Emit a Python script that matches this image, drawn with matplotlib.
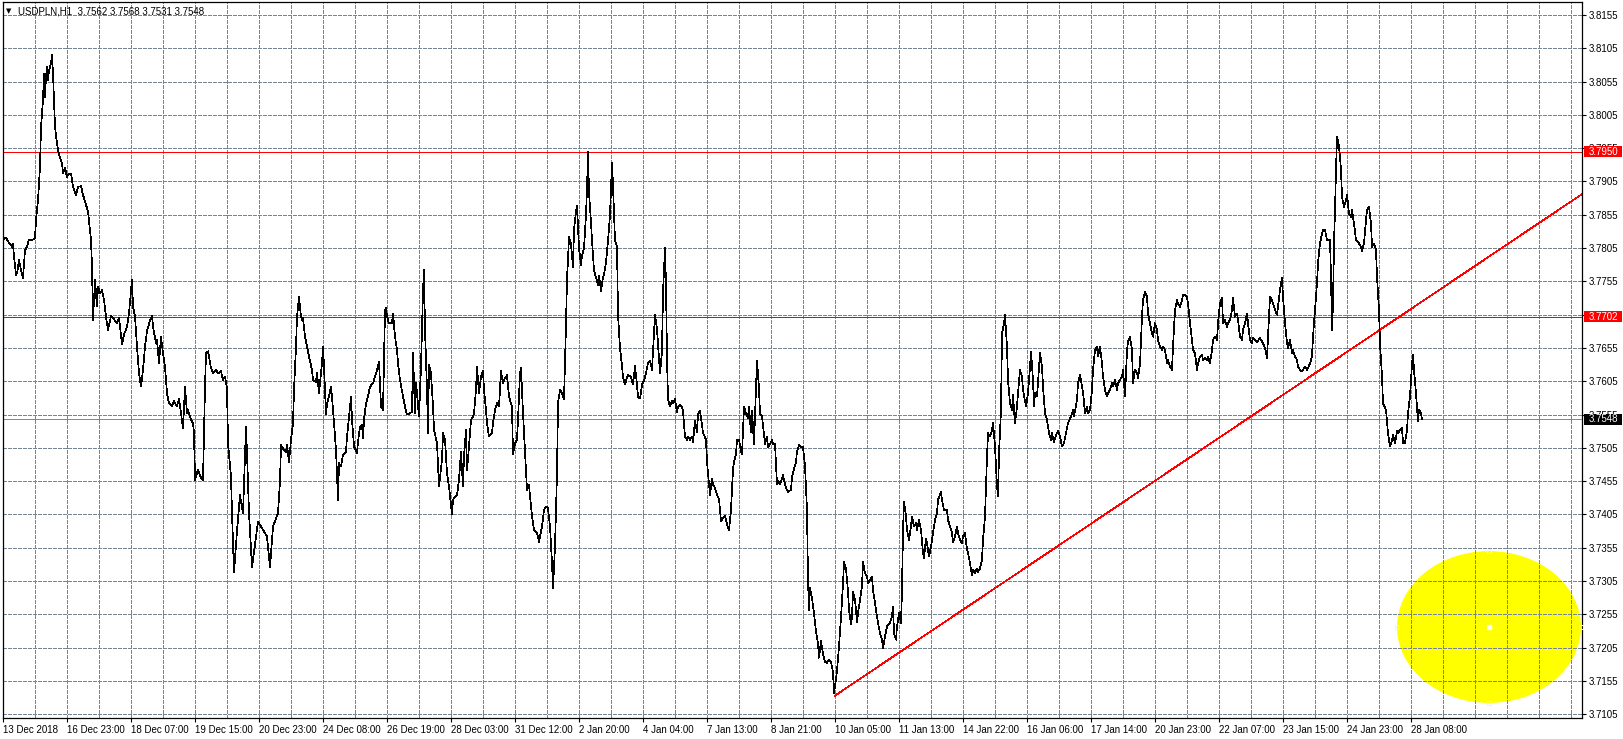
import matplotlib
matplotlib.use("Agg")
import matplotlib.pyplot as plt
from matplotlib.patches import Ellipse, Rectangle
from matplotlib.text import Text
import matplotlib.transforms as mtransforms

# ---------------- data ----------------
hours = [
    0, 1.5, 2.5, 4.5, 5, 5.5, 6.5, 7, 8, 9, 10, 11, 12, 13, 14.5, 16, 16.5, 17.5, 18.5, 19,
    20, 20.5, 21, 21.5, 22, 22.5, 23, 24, 24.5, 25, 25.5, 26, 27, 28, 29.5, 30, 31, 32, 32.5, 34,
    35, 36.5, 37.5, 39, 40, 41, 42.5, 44, 44.5, 45, 46, 47, 47.5, 48.5, 49.5, 50.5, 51.5, 52.5, 54, 55.5,
    57, 58, 59.5, 60.5, 62, 63, 64.5, 65, 66, 67, 68, 69, 70, 71, 72, 73.5, 74.5, 75, 76.5, 77,
    78, 79, 80, 81, 82, 83, 84.5, 85.5, 87, 88, 89, 90, 91, 92, 92.5, 94, 95, 95.5, 96, 97.5,
    99, 100, 101, 101.5, 102.5, 104, 105, 106.5, 107.5, 109, 110, 111, 112, 112.5, 114, 114.5, 115.5, 117, 118.5, 120,
    121.5, 122, 123, 124.5, 126, 127.5, 130, 132, 133.5, 135, 137.5, 138.5, 139, 140, 141.5, 142, 143, 144, 145, 145.5,
    146.5, 147, 148, 149, 149.5, 150, 151, 152, 153, 154.5, 155, 156.5, 157, 158, 159.5, 160, 160.5, 161.5, 162, 163,
    164, 164.5, 165.5, 166.5, 167.5, 168, 169, 170, 171.5, 172, 173, 174, 174.5, 175.5, 177, 177.5, 178.5, 179.5, 180, 180.5,
    181.5, 182.5, 183.5, 185, 186, 187, 188, 189, 190, 191, 191.5, 192, 193, 194.5, 195, 196, 197, 197.5, 198.5, 200,
    201, 202, 203.5, 204.5, 205, 206, 206.5, 207, 208, 209, 210, 210.5, 211, 212, 212.5, 213, 214, 215, 215.5, 217,
    218, 219.5, 220, 221, 222, 223, 224.5, 225, 226, 227, 228, 229, 230, 230.5, 231.5, 232, 233, 234, 235, 235.5,
    236.5, 237, 238, 239, 240, 240.5, 241.5, 242, 243, 244.5, 245, 246, 247, 248, 249, 250, 251, 252, 253, 254.5,
    255, 256, 257, 257.5, 258.5, 259, 260, 261.5, 262, 263, 264.5, 265.5, 267, 268, 269.5, 270.5, 271.5, 272.5, 273.5, 274.5,
    275, 276, 277, 277.5, 278.5, 279.5, 280.5, 281, 281.5, 282, 282.5, 283, 284, 285, 285.5, 286.5, 287, 288, 289, 289.5,
    290.5, 291.5, 292, 292.5, 293, 294, 294.5, 295.5, 296.5, 297.5, 298, 299, 300, 300.5, 301.5, 302.5, 303.5, 304.5, 305, 306,
    307, 307.5, 308.5, 309.5, 310, 311, 312, 312.5, 314, 315, 316, 317, 317.5, 318.5, 319.5, 320.5, 321.5, 322.5, 323.5, 324.5,
    325, 326, 327, 327.5, 328.5, 329.5, 330, 331, 331.5, 332, 332.5, 333.5, 334.5, 335, 336, 337, 337.5, 338.5, 339.5, 340,
    341, 342, 342.5, 343.5, 344.5, 345, 346, 347, 347.5, 348.5, 349.5, 350, 351.5, 352, 353, 353.5, 354.5, 355, 356, 357,
    358, 359, 360, 361, 362, 363, 364, 365, 365.5, 366.5, 367, 368, 369, 369.5, 370.5, 371.5, 372.5, 373, 374, 374.5,
    375.5, 376.5, 377, 378, 378.5, 379.5, 380, 381, 382, 382.5, 383.5, 384.5, 385, 386, 387, 387.5, 388.5, 390, 390.5, 391.5,
    392.5, 394, 394.5, 395.5, 396.5, 397, 398, 399, 400, 401, 402, 402.5, 403, 403.5, 404.5, 405.5, 406.5, 407.5, 408, 409,
    410, 411, 412, 413, 414, 415, 415.5, 416.5, 417, 418, 419, 420, 420.5, 421.5, 422.5, 423, 424, 424.5, 425, 426,
    427, 427.5, 428.5, 429.5, 430, 431, 432, 432.5, 433.5, 434.5, 435, 436, 437, 437.5, 438.5, 439.5, 440, 441, 442, 443.5,
    444.5, 445, 445.5, 446.5, 447, 448, 449, 449.5, 450, 450.5, 451.5, 452, 453, 454, 454.5, 455.5, 456.5, 457, 458, 459,
    460, 460.5, 461.5, 462, 463, 464, 465, 466, 467, 467.5, 469, 469.5, 470.5, 472, 472.5, 473.5, 474.5, 475, 476, 477,
    477.5, 478.5, 479.5, 480, 481, 482, 482.5, 483.5, 484.5, 485, 486, 487, 487.5, 488.5, 489.5, 490, 491, 492, 492.5, 493.5,
    494.5, 495, 496, 497, 497.5, 498, 499, 499.5, 500.5, 501, 502, 502.5, 503.5, 504.5, 505, 506, 507, 507.5, 508.5, 509.5,
    510, 511.5, 512.5, 513.5, 514, 515, 515.5, 516, 517, 518, 518.5, 519.5, 520, 521, 522, 523, 524, 524.5, 525.5, 526.5,
    527.5, 528.5, 529.5, 530.5, 531.5, 532.5, 534, 535, 535.5, 537, 537.5, 538.5, 539.5, 540, 541, 542, 542.5, 543.5, 544.5, 545,
    546, 547, 547.5, 548.5, 549.5, 550, 551, 552, 552.5, 553.5, 554.5, 555, 556, 557, 557.5, 558.5, 559.5, 560, 561, 562,
    562.5, 563.5, 564.5, 565, 566, 567, 567.5, 568.5, 569.5, 570, 571, 572, 572.5, 573.5, 574.5, 575, 576, 577, 577.5, 578.5,
    579.5, 580, 581, 582, 582.5, 583.5, 584.5, 585, 586, 587, 587.5, 588.5, 589.5, 590, 591, 592, 592.5, 593.5, 594.5, 595,
    596, 597, 597.5, 598.5, 599.5, 600, 601, 602, 602.5, 603.5, 604.5, 605, 606, 607, 607.5, 608.5, 609.5, 610, 611, 612,
    612.5, 613.5, 614.5, 615, 616, 617, 617.5, 618.5, 619.5, 620, 621, 622, 622.5, 623.5, 624.5, 625, 626, 627, 628.5, 630,
    631, 632, 632.5, 633.5, 634.5, 635, 636, 637, 637.5, 638.5, 639.5, 640, 641, 642, 642.5, 643.5, 644.5, 645, 646, 647,
    647.5, 648.5, 649.5, 651, 652, 652.5, 653.5, 654.5, 655, 656, 657, 657.5, 658.5, 659.5, 660, 661, 662, 663.5, 664, 664.5,
    665, 665.5, 666, 666.5, 667, 667.5, 668, 668.5, 669, 669.5, 670.5, 671.5, 672, 673, 674, 674.5, 675.5, 676.5, 677, 678,
    679, 679.5, 680.5, 681.5, 682, 683, 684, 684.5, 685.5, 686.5, 687, 688, 688.5, 689.5, 690, 691.5, 692.5, 693.5, 694.5, 695,
    696, 697, 697.5, 698.5, 699.5, 700, 701, 702, 702.5, 703.5, 704.5, 705, 705.5, 706.5, 707.5, 708, 709, 709.5,
]

closes = [
    3.7817, 3.7821, 3.7815, 3.7807, 3.7811, 3.7792, 3.7765, 3.7767, 3.7787, 3.7772, 3.7760, 3.7802, 3.7807, 3.7818, 3.7817, 3.7820, 3.7847, 3.7877, 3.7927, 3.7987,
    3.8027, 3.8067, 3.8032, 3.8062, 3.8077, 3.8057, 3.8072, 3.8082, 3.8095, 3.8067, 3.8027, 3.7987, 3.7962, 3.7945, 3.7932, 3.7917, 3.7925, 3.7912, 3.7915, 3.7917,
    3.7897, 3.7885, 3.7897, 3.7898, 3.7885, 3.7875, 3.7860, 3.7817, 3.7777, 3.7697, 3.7757, 3.7717, 3.7747, 3.7737, 3.7742, 3.7727, 3.7702, 3.7682, 3.7703, 3.7698,
    3.7692, 3.7700, 3.7660, 3.7675, 3.7687, 3.7707, 3.7758, 3.7717, 3.7702, 3.7657, 3.7617, 3.7597, 3.7622, 3.7657, 3.7680, 3.7697, 3.7703, 3.7687, 3.7662, 3.7667,
    3.7632, 3.7672, 3.7647, 3.7627, 3.7587, 3.7572, 3.7567, 3.7575, 3.7567, 3.7579, 3.7557, 3.7535, 3.7597, 3.7557, 3.7562, 3.7547, 3.7542, 3.7527, 3.7457, 3.7472,
    3.7460, 3.7457, 3.7597, 3.7647, 3.7650, 3.7625, 3.7617, 3.7622, 3.7617, 3.7620, 3.7607, 3.7612, 3.7594, 3.7512, 3.7462, 3.7407, 3.7318, 3.7380, 3.7434, 3.7407,
    3.7537, 3.7497, 3.7407, 3.7326, 3.7360, 3.7394, 3.7382, 3.7372, 3.7326, 3.7387, 3.7407, 3.7455, 3.7509, 3.7504, 3.7499, 3.7509, 3.7484, 3.7517, 3.7542, 3.7592,
    3.7657, 3.7702, 3.7732, 3.7702, 3.7697, 3.7700, 3.7672, 3.7657, 3.7642, 3.7622, 3.7607, 3.7604, 3.7617, 3.7587, 3.7632, 3.7657, 3.7627, 3.7555, 3.7572, 3.7582,
    3.7597, 3.7582, 3.7542, 3.7502, 3.7427, 3.7482, 3.7477, 3.7495, 3.7499, 3.7522, 3.7552, 3.7582, 3.7547, 3.7507, 3.7497, 3.7514, 3.7537, 3.7539, 3.7519, 3.7547,
    3.7572, 3.7582, 3.7597, 3.7602, 3.7612, 3.7622, 3.7634, 3.7567, 3.7562, 3.7712, 3.7715, 3.7702, 3.7692, 3.7692, 3.7707, 3.7672, 3.7652, 3.7632, 3.7607, 3.7582,
    3.7567, 3.7555, 3.7557, 3.7559, 3.7648, 3.7557, 3.7602, 3.7587, 3.7552, 3.7627, 3.7742, 3.7772, 3.7682, 3.7592, 3.7527, 3.7630, 3.7617, 3.7567, 3.7532, 3.7512,
    3.7447, 3.7487, 3.7527, 3.7517, 3.7467, 3.7447, 3.7405, 3.7427, 3.7432, 3.7434, 3.7457, 3.7499, 3.7447, 3.7492, 3.7532, 3.7472, 3.7507, 3.7547, 3.7552, 3.7557,
    3.7592, 3.7627, 3.7587, 3.7612, 3.7620, 3.7592, 3.7562, 3.7542, 3.7522, 3.7527, 3.7542, 3.7562, 3.7572, 3.7567, 3.7620, 3.7602, 3.7610, 3.7614, 3.7582, 3.7567,
    3.7495, 3.7512, 3.7517, 3.7547, 3.7617, 3.7625, 3.7557, 3.7472, 3.7442, 3.7449, 3.7402, 3.7382, 3.7377, 3.7364, 3.7387, 3.7412, 3.7417, 3.7414, 3.7387, 3.7332,
    3.7294, 3.7357, 3.7467, 3.7572, 3.7592, 3.7587, 3.7578, 3.7632, 3.7690, 3.7760, 3.7787, 3.7822, 3.7811, 3.7777, 3.7833, 3.7860, 3.7869, 3.7805, 3.7780, 3.7794,
    3.7805, 3.7855, 3.7894, 3.7949, 3.7888, 3.7844, 3.7816, 3.7772, 3.7761, 3.7750, 3.7763, 3.7741, 3.7761, 3.7766, 3.7783, 3.7816, 3.7855, 3.7933, 3.7899, 3.7816,
    3.7808, 3.7705, 3.7655, 3.7628, 3.7611, 3.7600, 3.7611, 3.7614, 3.7612, 3.7600, 3.7628, 3.7600, 3.7581, 3.7579, 3.7600, 3.7606, 3.7617, 3.7633, 3.7636, 3.7622,
    3.7650, 3.7705, 3.7683, 3.7661, 3.7617, 3.7650, 3.7739, 3.7805, 3.7750, 3.7639, 3.7578, 3.7567, 3.7575, 3.7572, 3.7578, 3.7558, 3.7567, 3.7570, 3.7567, 3.7561,
    3.7522, 3.7517, 3.7522, 3.7517, 3.7522, 3.7514, 3.7545, 3.7528, 3.7556, 3.7561, 3.7539, 3.7528, 3.7517, 3.7484, 3.7450, 3.7434, 3.7459, 3.7450, 3.7445, 3.7434,
    3.7428, 3.7395, 3.7400, 3.7403, 3.7390, 3.7381, 3.7412, 3.7473, 3.7484, 3.7495, 3.7517, 3.7517, 3.7500, 3.7495, 3.7567, 3.7556, 3.7550, 3.7567, 3.7528, 3.7561,
    3.7511, 3.7594, 3.7636, 3.7594, 3.7556, 3.7553, 3.7539, 3.7511, 3.7522, 3.7506, 3.7511, 3.7517, 3.7511, 3.7511, 3.7450, 3.7456, 3.7450, 3.7464, 3.7456, 3.7445,
    3.7439, 3.7442, 3.7461, 3.7473, 3.7484, 3.7500, 3.7509, 3.7506, 3.7506, 3.7478, 3.7412, 3.7306, 3.7262, 3.7295, 3.7279, 3.7257, 3.7229, 3.7212, 3.7190, 3.7215,
    3.7196, 3.7184, 3.7182, 3.7187, 3.7184, 3.7168, 3.7137, 3.7157, 3.7171, 3.7207, 3.7251, 3.7301, 3.7334, 3.7323, 3.7290, 3.7262, 3.7240, 3.7252, 3.7289, 3.7277,
    3.7244, 3.7257, 3.7277, 3.7297, 3.7334, 3.7317, 3.7312, 3.7302, 3.7307, 3.7312, 3.7292, 3.7272, 3.7252, 3.7242, 3.7227, 3.7217, 3.7204, 3.7222, 3.7237, 3.7242,
    3.7252, 3.7267, 3.7227, 3.7217, 3.7237, 3.7257, 3.7242, 3.7292, 3.7382, 3.7424, 3.7402, 3.7382, 3.7367, 3.7387, 3.7402, 3.7387, 3.7392, 3.7382, 3.7397, 3.7382,
    3.7347, 3.7339, 3.7369, 3.7362, 3.7342, 3.7357, 3.7377, 3.7397, 3.7407, 3.7427, 3.7439, 3.7427, 3.7412, 3.7412, 3.7397, 3.7387, 3.7377, 3.7364, 3.7372, 3.7387,
    3.7377, 3.7367, 3.7362, 3.7372, 3.7377, 3.7352, 3.7347, 3.7332, 3.7314, 3.7322, 3.7317, 3.7324, 3.7319, 3.7324, 3.7337, 3.7367, 3.7402, 3.7492, 3.7527, 3.7522,
    3.7532, 3.7542, 3.7507, 3.7447, 3.7432, 3.7497, 3.7562, 3.7677, 3.7692, 3.7705, 3.7657, 3.7607, 3.7572, 3.7562, 3.7584, 3.7542, 3.7567, 3.7587, 3.7622, 3.7612,
    3.7592, 3.7567, 3.7587, 3.7627, 3.7650, 3.7607, 3.7567, 3.7587, 3.7582, 3.7627, 3.7647, 3.7627, 3.7597, 3.7557, 3.7547, 3.7527, 3.7517, 3.7527, 3.7514, 3.7524,
    3.7530, 3.7522, 3.7507, 3.7512, 3.7527, 3.7542, 3.7552, 3.7562, 3.7552, 3.7577, 3.7602, 3.7614, 3.7597, 3.7589, 3.7557, 3.7567, 3.7557, 3.7562, 3.7592, 3.7622,
    3.7652, 3.7657, 3.7642, 3.7657, 3.7632, 3.7612, 3.7592, 3.7582, 3.7587, 3.7592, 3.7602, 3.7597, 3.7607, 3.7592, 3.7602, 3.7607, 3.7612, 3.7622, 3.7582, 3.7652,
    3.7664, 3.7672, 3.7652, 3.7602, 3.7622, 3.7617, 3.7610, 3.7630, 3.7702, 3.7727, 3.7740, 3.7732, 3.7707, 3.7692, 3.7677, 3.7672, 3.7692, 3.7682, 3.7667, 3.7657,
    3.7652, 3.7657, 3.7652, 3.7632, 3.7637, 3.7627, 3.7622, 3.7657, 3.7712, 3.7727, 3.7722, 3.7717, 3.7727, 3.7735, 3.7735, 3.7732, 3.7722, 3.7692, 3.7667, 3.7652,
    3.7647, 3.7622, 3.7632, 3.7642, 3.7645, 3.7637, 3.7640, 3.7637, 3.7642, 3.7632, 3.7652, 3.7667, 3.7672, 3.7667, 3.7692, 3.7722, 3.7730, 3.7692, 3.7697, 3.7687,
    3.7692, 3.7697, 3.7712, 3.7730, 3.7702, 3.7707, 3.7697, 3.7672, 3.7667, 3.7682, 3.7692, 3.7707, 3.7692, 3.7667, 3.7662, 3.7670, 3.7667, 3.7664, 3.7670, 3.7662,
    3.7655, 3.7640, 3.7672, 3.7732, 3.7727, 3.7722, 3.7712, 3.7705, 3.7717, 3.7742, 3.7760, 3.7732, 3.7692, 3.7662, 3.7655, 3.7667, 3.7647, 3.7652, 3.7642, 3.7637,
    3.7627, 3.7622, 3.7620, 3.7627, 3.7622, 3.7625, 3.7632, 3.7642, 3.7672, 3.7712, 3.7752, 3.7782, 3.7812, 3.7827, 3.7832, 3.7832, 3.7817, 3.7817, 3.7762, 3.7682,
    3.7722, 3.7812, 3.7862, 3.7922, 3.7972, 3.7965, 3.7957, 3.7942, 3.7922, 3.7882, 3.7867, 3.7877, 3.7885, 3.7857, 3.7852, 3.7862, 3.7842, 3.7817, 3.7815, 3.7812,
    3.7807, 3.7800, 3.7812, 3.7847, 3.7862, 3.7867, 3.7842, 3.7807, 3.7812, 3.7802, 3.7762, 3.7712, 3.7662, 3.7612, 3.7572, 3.7562, 3.7527, 3.7507, 3.7517, 3.7524,
    3.7512, 3.7530, 3.7527, 3.7532, 3.7535, 3.7512, 3.7512, 3.7532, 3.7557, 3.7582, 3.7632, 3.7645, 3.7622, 3.7587, 3.7545, 3.7562, 3.7557, 3.7548,
]

title_text = "USDPLN,H1  3.7562 3.7568 3.7531 3.7548"
date_ticks = [0, 32, 64, 96, 128, 160, 192, 224, 256, 288, 320, 352, 384, 416, 448, 480,
              512, 544, 576, 608, 640, 672, 704]
date_labels = ["13 Dec 2018", "16 Dec 23:00", "18 Dec 07:00", "19 Dec 15:00", "20 Dec 23:00",
               "24 Dec 08:00", "26 Dec 19:00", "28 Dec 03:00", "31 Dec 12:00", "2 Jan 20:00",
               "4 Jan 04:00", "7 Jan 13:00", "8 Jan 21:00", "10 Jan 05:00", "11 Jan 13:00",
               "14 Jan 22:00", "16 Jan 06:00", "17 Jan 14:00", "20 Jan 23:00", "22 Jan 07:00",
               "23 Jan 15:00", "24 Jan 23:00", "28 Jan 08:00"]
price_ticks = [3.7105, 3.7155, 3.7205, 3.7255, 3.7305, 3.7355, 3.7405, 3.7455, 3.7505, 3.7555,
               3.7605, 3.7655, 3.7705, 3.7755, 3.7805, 3.7855, 3.7905, 3.7955, 3.8005, 3.8055,
               3.8105, 3.8155]
resistance_levels = [3.7950, 3.7702]
last_close = 3.7548
trend_hours = [416, 789.5]
trend_prices = [3.7133, 3.7886]
ellipse_center = (743, 3.7236)
ellipse_size = (92, 0.0228)

# ---------------- figure ----------------
W, H = 1623, 739
fig = plt.figure(figsize=(W / 100, H / 100), dpi=100)
fig.patch.set_facecolor("white")
ax = fig.add_axes([3 / W, 21 / H, 1579 / W, 716 / H])
ax.set_facecolor("white")
ax.set_xlim(0, 789.5)
ax.set_ylim(3.70994, 3.81745)

FONT = "Liberation Sans"
grid_color = "#768594"
LW = 0.72   # one pixel at 100 dpi
THIN = 0.5  # aliased thin line (renders 1 px)

# ellipse (below grid)
ax.add_patch(Ellipse(ellipse_center, ellipse_size[0], ellipse_size[1],
                     facecolor="#ffff00", edgecolor="none", zorder=0.5))

# grid
for p in price_ticks:
    ax.axhline(p, color=grid_color, lw=LW, ls=(0, (3, 2)), zorder=1, antialiased=False)
for h in range(16, 790, 16):
    ax.axvline(h, color=grid_color, lw=LW, ls=(0, (3, 2)), zorder=1, antialiased=False)

# level lines
for lv in resistance_levels:
    ax.axhline(lv, color="#ff0000", lw=THIN, zorder=2, antialiased=False)
ax.axhline(last_close, color="#7f8a96", lw=THIN, zorder=2, antialiased=False)

# trend line
ax.plot(trend_hours, trend_prices, color="#ff0000", lw=THIN, zorder=2.5, antialiased=False)

# price line
ax.plot(hours, closes, color="black", lw=THIN, zorder=3, antialiased=False)

# ellipse handles
cx, cy = ellipse_center
ew, eh = ellipse_size
ax.plot([cx], [cy], marker="s", ms=2.2, mfc="white", mec="white", ls="none", zorder=4)
ax.plot([cx, cx, cx - ew / 2, cx + ew / 2], [cy + eh / 2, cy - eh / 2, cy, cy],
        marker="s", ms=3, mfc="none", mec="#fff9b0", mew=0.8, ls="none", zorder=4, clip_on=False)

# axes / ticks
for s in ax.spines.values():
    s.set_color("black")
    s.set_linewidth(0.9)

ax.set_xticks(date_ticks)
ax.set_xticklabels(date_labels, fontsize=7, family=FONT)
for lbl in ax.get_xticklabels():
    lbl.set_ha("left")
ax.tick_params(axis="x", direction="out", length=3, width=0.8, pad=2, colors="black")

ax.yaxis.tick_right()
ax.set_yticks(price_ticks)
ax.set_yticklabels([f"{p:.4f}" for p in price_ticks], fontsize=7, family=FONT)
ax.tick_params(axis="y", direction="out", length=3, width=0.8, pad=2, colors="black")

# price labels on the right scale
blend = mtransforms.blended_transform_factory(fig.transFigure, ax.transData)
box_h = 11 / 6660
for value, face in [(resistance_levels[0], "#ff0000"), (resistance_levels[1], "#ff0000"),
                    (last_close, "black")]:
    fig.add_artist(Rectangle((1584 / W, value - box_h / 2), 38 / W, box_h,
                             transform=blend, facecolor=face, edgecolor="none", zorder=5))
    fig.add_artist(Text(1589 / W, value, f"{value:.4f}", color="white", fontsize=7,
                        family=FONT, ha="left", va="center", transform=blend, zorder=6))

# title
fig.text(6 / W, 1 - 11 / H, "\u25bc", fontsize=5, family="DejaVu Sans", va="center", ha="left")
fig.text(18 / W, 1 - 11 / H, title_text, fontsize=7, family=FONT, va="center", ha="left")

fig.savefig("out.png", dpi=100)
